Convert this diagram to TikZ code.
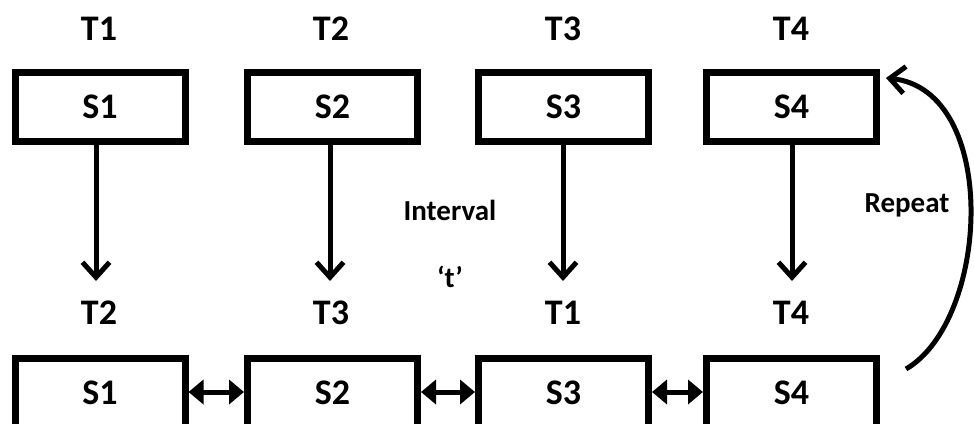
\documentclass[tikz,border=0pt]{standalone}
\usepackage{fontspec}
\setmainfont{Carlito}
\usetikzlibrary{arrows.meta}
\tikzset{
  slot/.style={draw, line width=7pt, minimum width=170pt, minimum height=69pt, inner sep=0pt,
    font=\bfseries\fontsize{36}{40}\selectfont},
  tag/.style={font=\bfseries\fontsize{36}{40}\selectfont, inner sep=0pt},
  note/.style={font=\bfseries\fontsize{29}{34}\selectfont, inner sep=0pt},
  down/.style={line width=5pt, -{Straight Barb[length=15pt,width=27pt,line width=5pt]}},
  swap/.style={line width=5pt, {Triangle[length=15pt,width=24pt]}-{Triangle[length=15pt,width=24pt]}},
  loop/.style={line width=5pt, -{Straight Barb[length=15pt,width=27pt,line width=5pt]}}
}
\begin{document}
\begin{tikzpicture}[x=1pt,y=-1pt]
\useasboundingbox (0,0) rectangle (974,423);

% upper row of slots
\node[slot] (a1) at (100,106.5) {S1};
\node[slot] (a2) at (332.5,106.5) {S2};
\node[slot] (a3) at (563.5,106.5) {S3};
\node[slot] (a4) at (791.5,106.5) {S4};
\node[tag] at (99,29) {T1};
\node[tag] at (331,29) {T2};
\node[tag] at (563,29) {T3};
\node[tag] at (791,29) {T4};

% lower row of slots
\node[slot] (b1) at (100,392.5) {S1};
\node[slot] (b2) at (332.5,392.5) {S2};
\node[slot] (b3) at (563.5,392.5) {S3};
\node[slot] (b4) at (791.5,392.5) {S4};
\node[tag] at (99,313) {T2};
\node[tag] at (331,313) {T3};
\node[tag] at (563,313) {T1};
\node[tag] at (791,313) {T4};

% downward transitions
\coordinate (e1) at (96,281);
\coordinate (e2) at (330,281);
\coordinate (e3) at (563,281);
\coordinate (e4) at (792,281);
\draw[down] (a1.south -| e1) -- (e1);
\draw[down] (a2.south -| e2) -- (e2);
\draw[down] (a3.south -| e3) -- (e3);
\draw[down] (a4.south -| e4) -- (e4);

% exchanges between neighbours
\draw[swap] (b1.east |- 0,392) -- (b2.west |- 0,392);
\draw[swap] (b2.east |- 0,392) -- (b3.west |- 0,392);
\draw[swap] (b3.east |- 0,392) -- (b4.west |- 0,392);

% labels
\node[note] (iv) at (450,210) {Interval};
\node[note] (tt) at (450,277) {‘t’};
\node[note] (rp) at (907,205) {Repeat};

% cycle back to the top
\coordinate (r0) at (906,369);
\coordinate (r1) at (886,78);
\draw[loop] (r0) .. controls (990,320) and (1000,90) .. (r1);
\end{tikzpicture}
\end{document}
